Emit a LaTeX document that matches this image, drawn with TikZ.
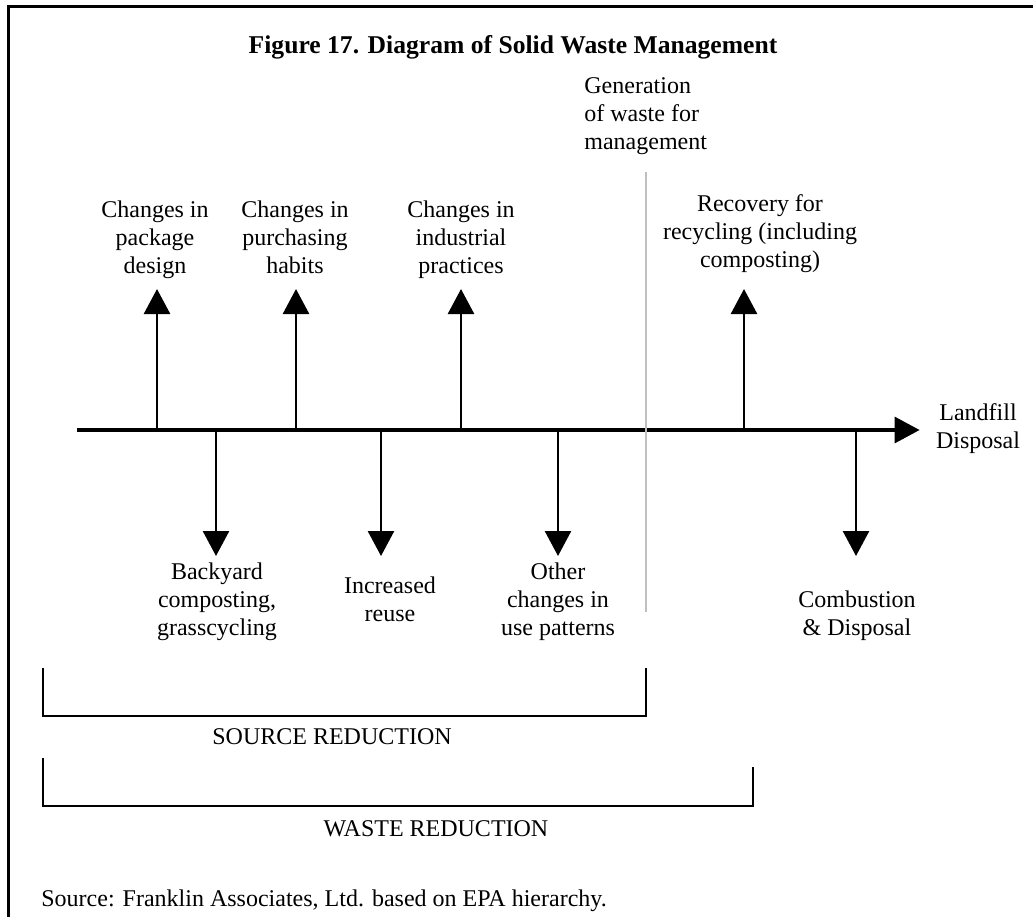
\documentclass[tikz,border=0pt]{standalone}
\usepackage{fontspec}
\setmainfont{Liberation Serif}
\usetikzlibrary{arrows.meta, positioning}

\begin{document}
\begin{tikzpicture}[x=0.5pt, y=-0.5pt,
	lbl/.style={align=center, font=\fontsize{12}{14}\selectfont, inner sep=2pt,
		execute at begin node=\strut, execute at end node=\strut},
	ttl/.style={font=\fontsize{12.8}{15}\selectfont\bfseries},
	arr/.style={line width=1.3pt, -{Triangle[width=13pt, length=12.5pt]}},
	axis/.style={line width=1.6pt, -{Triangle[width=13pt, length=12.5pt]}},
	brk/.style={line width=1pt},
	frame/.style={line width=1.5pt}
	]
	\useasboundingbox (0,0) rectangle (1033,916);
	\draw[frame] (8,930) -- (8,6) -- (1045,6);

	\node[ttl] (title) at (513,47) {Figure 17. Diagram of Solid Waste Management};

	% main line
	\coordinate (axs) at (77,430);
	\node[lbl] (land) at (978,430) {Landfill\\Disposal};
	\draw[axis, shorten >=6pt] (axs) -- (land);

	\coordinate (uptip) at (0,289);
	\coordinate (dntip) at (0,556);

	% generation of waste
	\node[lbl, align=left, anchor=west] (gen) at (580,118) {Generation\\of waste for\\management};
	\coordinate (gtop) at (646,172);
	\coordinate (gbot) at (646,612);
	\draw[line width=1pt, black!25] (gtop) -- (gbot);

	% upward branches
	\coordinate (u1) at (157,430);
	\coordinate (u2) at (296,430);
	\coordinate (u3) at (461,430);
	\coordinate (u4) at (744,430);
	\draw[arr] (u1) -- (u1 |- uptip);
	\draw[arr] (u2) -- (u2 |- uptip);
	\draw[arr] (u3) -- (u3 |- uptip);
	\draw[arr] (u4) -- (u4 |- uptip);
	\node[lbl] (pkg) at (155,241) {Changes in\\package\\design};
	\node[lbl] (buy) at (295,241) {Changes in\\purchasing\\habits};
	\node[lbl] (ind) at (461,241) {Changes in\\industrial\\practices};
	\node[lbl] (rec) at (760,235) {Recovery for\\recycling (including\\composting)};

	% downward branches
	\coordinate (d1) at (216,430);
	\coordinate (d2) at (381,430);
	\coordinate (d3) at (558,430);
	\coordinate (d4) at (856,430);
	\draw[arr] (d1) -- (d1 |- dntip);
	\draw[arr] (d2) -- (d2 |- dntip);
	\draw[arr] (d3) -- (d3 |- dntip);
	\draw[arr] (d4) -- (d4 |- dntip);
	\node[lbl] (yard) at (217,603) {Backyard\\composting,\\grasscycling};
	\node[lbl] (reuse) at (390,603) {Increased\\reuse};
	\node[lbl] (other) at (558,603) {Other\\changes in\\use patterns};
	\node[lbl] (comb) at (857,617) {Combustion\\\& Disposal};

	% brackets
	\draw[brk] (43,668) -- (43,716) -- (646,716) -- (646,668);
	\node[lbl] (src) at (332,739) {SOURCE REDUCTION};
	\draw[brk] (43,758) -- (43,806) -- (753,806) -- (753,767);
	\node[lbl] (wst) at (436,831) {WASTE REDUCTION};

	\node[lbl, anchor=west] (note) at (37,901) {Source: Franklin Associates, Ltd. based on EPA hierarchy.};
\end{tikzpicture}
\end{document}
